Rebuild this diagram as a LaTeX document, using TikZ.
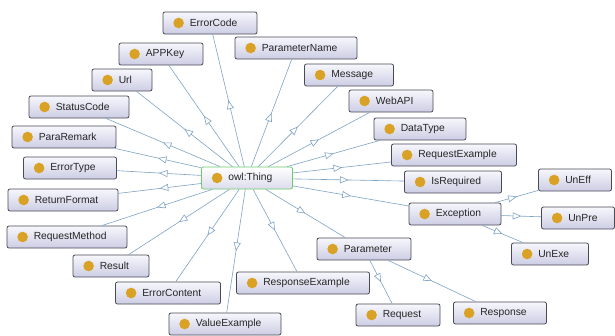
\documentclass[tikz,border=0pt]{standalone}
\usepackage{fontspec}
\setmainfont{Liberation Sans}
\usetikzlibrary{arrows.meta,decorations.markings}
\definecolor{edgec}{HTML}{7FA3C6}
\definecolor{dotc}{HTML}{D9A224}
\definecolor{boxline}{HTML}{4A4A55}
\definecolor{boxtop}{HTML}{F7F7FC}
\definecolor{boxbot}{HTML}{CCCDE4}
\definecolor{thingline}{HTML}{6CCB6C}
\tikzset{
  clsbox/.style={rectangle, rounded corners=2pt, draw=boxline, line width=0.8pt,
    top color=boxtop, bottom color=boxbot, minimum height=22pt, inner sep=0pt},
  thingbox/.style={clsbox, draw=thingline, top color=white, bottom color=boxbot!70},
  clstext/.style={anchor=west, font=\fontsize{10.3}{12}\selectfont, text=black!85, inner sep=0pt},
  subedge/.style={draw=edgec, line width=0.6pt,
    postaction={decorate},
    decoration={markings, mark=at position 0.5 with {\arrow[draw=edgec,line width=0.6pt]{Triangle[length=8.5pt,width=7pt,fill=white]}}}}
}
\begin{document}
\begin{tikzpicture}[x=1pt,y=-1pt]
\useasboundingbox (0,0) rectangle (615,335);
\fill[white] (0,0) rectangle (615,335);
% nodes: name, cx, cy, width, text
\newcommand\mk[6][clsbox]{%
  \node[#1, minimum width=#5] (#2) at (#3,#4) {};
  \fill[dotc] ([xshift=16pt]#2.west) circle (5.3pt);
  \node[clstext] (#2-t) at ([xshift=27pt]#2.west) {#6};
}
\mk[thingbox]{thing}{247}{178}{91}{owl:Thing}
\mk{errorcode}{210}{23}{94}{ErrorCode}
\mk{appkey}{161}{54}{84}{APPKey}
\mk{paramname}{296}{48}{122}{ParameterName}
\mk{url}{122}{80}{60}{Url}
\mk{statuscode}{79}{107}{100}{StatusCode}
\mk{pararemark}{64}{137}{104}{ParaRemark}
\mk{errortype}{70}{168}{93}{ErrorType}
\mk{returnformat}{63}{200}{110}{ReturnFormat}
\mk{requestmethod}{67}{237}{120}{RequestMethod}
\mk{result}{111}{266}{76}{Result}
\mk{errorcontent}{168}{293}{105}{ErrorContent}
\mk{valueexample}{225}{324}{112}{ValueExample}
\mk{responseexample}{303}{283}{133}{ResponseExample}
\mk{message}{349}{75}{89}{Message}
\mk{webapi}{391}{101}{84}{WebAPI}
\mk{datatype}{420}{129}{92}{DataType}
\mk{requestexample}{454}{155}{125}{RequestExample}
\mk{isrequired}{453}{182}{97}{IsRequired}
\mk{exception}{455}{214}{92}{Exception}
\mk{uneff}{575}{180}{73}{UnEff}
\mk{unpre}{578}{218}{73}{UnPre}
\mk{unexe}{550}{254}{77}{UnExe}
\mk{parameter}{364}{249}{94}{Parameter}
\mk{request}{398}{315}{84}{Request}
\mk{response}{500}{313}{93}{Response}
% edges
\foreach \t in {errorcode,appkey,paramname,url,statuscode,pararemark,errortype,returnformat,requestmethod,result,errorcontent,valueexample,responseexample,message,webapi,datatype,requestexample,isrequired,exception,parameter}
  \path[subedge] (thing) -- (\t);
\path[subedge] (exception) -- (uneff);
\path[subedge] (exception) -- (unpre);
\path[subedge] (exception) -- (unexe);
\path[subedge] (parameter) -- (request);
\path[subedge] (parameter) -- (response);
\end{tikzpicture}
\end{document}
